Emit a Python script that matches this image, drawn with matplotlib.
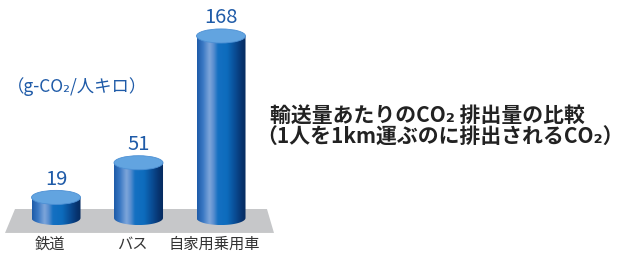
import numpy as np
import matplotlib
matplotlib.use("Agg")
import matplotlib.pyplot as plt
from matplotlib.path import Path
from matplotlib.patches import PathPatch, Ellipse, Polygon
from matplotlib.colors import LinearSegmentedColormap

plt.rcParams['font.family'] = ['Noto Sans CJK JP', 'DejaVu Sans']

categories = ['鉄道', 'バス', '自家用乗用車']
values = [19, 51, 168]
unit_label = '（g-CO₂/人キロ）'
title_lines = ['輸送量あたりのCO₂ 排出量の比較', '（1人を1km運ぶのに排出されるCO₂）']

BLUE_TEXT = '#1f5ba8'

fig = plt.figure(figsize=(6.25, 2.57), dpi=100)
ax = fig.add_axes([0, 0, 1, 1])
# 1 category step = 82.5 px, 1 value unit = 1.083 px
ax.set_xlim(-0.679, 6.897)
ax.set_ylim(-36.0, 201.2)
ax.axis('off')

half_w = 0.297   # cylinder radius in x units
half_h = 6.5     # ellipse half height in value units

# grey floor
floor = Polygon([(-0.497, 8.3), (2.557, 8.3), (2.642, -13.8), (-0.618, -13.8)],
                closed=True, facecolor='#c6c7c9', edgecolor='none', zorder=1)
ax.add_patch(floor)

body_cmap = LinearSegmentedColormap.from_list('cyl', [
    (0.0, '#1c5aa8'), (0.12, '#3a78c4'), (0.25, '#7ea6da'), (0.33, '#5b8fd0'),
    (0.42, '#1470c2'), (0.6, '#0d6cbd'), (0.75, '#0a4f98'), (0.9, '#07336f'),
    (1.0, '#062a5c')])
grad = np.linspace(0, 1, 256).reshape(1, -1)

t = np.linspace(np.pi, 2 * np.pi, 60)
for i, v in enumerate(values):
    # body outline: straight sides + bottom half ellipse
    verts = [(i - half_w, v)]
    verts += [(i + half_w * np.cos(a), half_h * np.sin(a)) for a in t]
    verts += [(i + half_w, v), (i - half_w, v)]
    codes = [Path.MOVETO] + [Path.LINETO] * (len(verts) - 2) + [Path.CLOSEPOLY]
    body = PathPatch(Path(verts, codes), facecolor='none', edgecolor='none', zorder=2)
    ax.add_patch(body)
    im = ax.imshow(grad, cmap=body_cmap, aspect='auto', zorder=2,
                   extent=(i - half_w, i + half_w, -half_h, v), interpolation='bicubic')
    im.set_clip_path(body)
    top = Ellipse((i, v), 2 * half_w, 2 * half_h, facecolor='#62a4e0',
                  edgecolor='#4d90d4', linewidth=0.6, zorder=3)
    ax.add_patch(top)
    ax.annotate(str(v), xy=(i, v + half_h), xytext=(0, 4), textcoords='offset points',
                ha='center', va='baseline', fontsize=14.5, color=BLUE_TEXT, zorder=4)
    ax.text(i - 0.08, -24.5, categories[i], ha='center', va='center',
            fontsize=11, color='#333333')

ax.text(-0.6, 121.5, unit_label, ha='left', va='center', fontsize=12.5,
        color=BLUE_TEXT)

ax.text(2.59, 94.6, title_lines[0], ha='left', va='center', fontsize=15,
        fontweight='bold', color='#222222')
ax.text(2.43, 74.4, title_lines[1], ha='left', va='center', fontsize=15,
        fontweight='bold', color='#222222')

fig.savefig('out.png', dpi=100)
